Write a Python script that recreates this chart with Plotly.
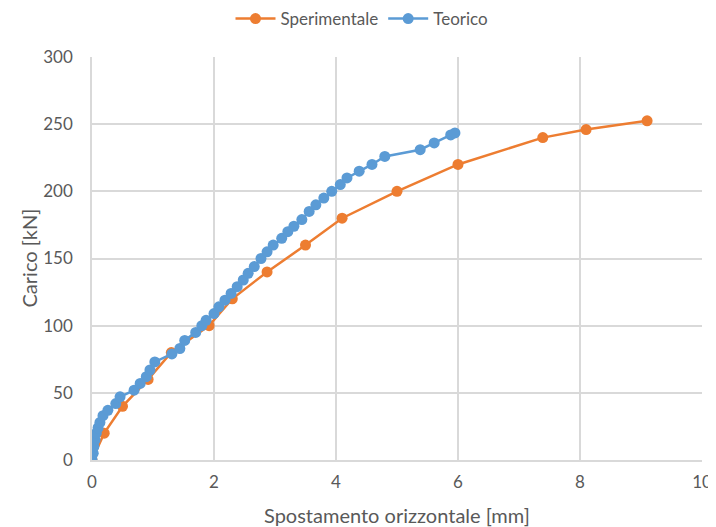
import plotly.graph_objects as go

# Sperimentale
sper_x = [0, 0.2, 0.5, 0.92, 1.3, 1.92, 2.3, 2.87, 3.5, 4.1, 5.0, 6.0, 7.39, 8.1, 9.1]
sper_y = [0, 20, 40, 60, 80, 100, 120, 140, 160, 180, 200, 220, 240, 246, 252.5]

# Teorico
teo_x = [0, 0.02, 0.03, 0.05, 0.07, 0.1, 0.13, 0.18, 0.26, 0.39, 0.46, 0.69, 0.79, 0.89,
         0.95, 1.03, 1.31, 1.44, 1.52, 1.70, 1.80, 1.87, 2.0, 2.08, 2.18, 2.28, 2.38,
         2.48, 2.56, 2.66, 2.77, 2.87, 2.97, 3.11, 3.21, 3.31, 3.44, 3.56, 3.67, 3.80,
         3.93, 4.07, 4.18, 4.38, 4.59, 4.80, 5.38, 5.61, 5.88, 5.95]
teo_y = [0, 5, 10, 15, 20, 24, 28, 33, 37, 42, 47, 52, 57, 62,
         67, 73, 79, 83, 89, 95, 100, 104, 109, 114, 119, 124, 129,
         134, 139, 144, 150, 155, 160, 165, 170, 174, 179, 185, 190, 195,
         200, 205, 210, 215, 220, 226, 231, 236, 242, 243.5]

x_ticks = [0, 2, 4, 6, 8, 10]
y_ticks = [0, 50, 100, 150, 200, 250, 300]

x_title = "Spostamento orizzontale [mm]"
y_title = "Carico [kN]"

grey = "#595959"
grid = "#d9d9d9"
font_family = "Lato, 'Open Sans', sans-serif"

# page body has an 8px margin: figure is offset by (8, 8) in the window
W, H = 708, 519

fig = go.Figure()
fig.add_trace(go.Scatter(x=sper_x, y=sper_y, mode="lines+markers", name="Sperimentale",
                         line=dict(color="#ED7D31", width=2.5),
                         marker=dict(color="#ED7D31", size=11)))
fig.add_trace(go.Scatter(x=teo_x, y=teo_y, mode="lines+markers", name="Teorico",
                         line=dict(color="#5B9BD5", width=2.5),
                         marker=dict(color="#5B9BD5", size=11)))

fig.update_layout(
    width=W, height=H,
    margin=dict(l=84, r=14, t=49, b=67, autoexpand=False),
    paper_bgcolor="white", plot_bgcolor="white",
    font=dict(family=font_family, color=grey, size=17),
    showlegend=True,
    legend=dict(orientation="h", xref="container", x=0.5, xanchor="center",
                y=1 - 11 / H, yanchor="middle", yref="container",
                font=dict(size=17, color=grey), itemwidth=40),
    xaxis=dict(range=[0, 10], tickvals=x_ticks, showgrid=True, gridcolor=grid, gridwidth=1.5,
               zeroline=False, showline=True, linecolor=grid, linewidth=1.5, automargin=False,
               tickfont=dict(size=17, color=grey), ticks="", ticklabelstandoff=6),
    yaxis=dict(range=[0, 300], tickvals=y_ticks, showgrid=True, gridcolor=grid, gridwidth=1.5,
               zeroline=False, showline=True, linecolor=grid, linewidth=1.5, automargin=False,
               tickfont=dict(size=17, color=grey), ticks="", ticklabelstandoff=14),
    annotations=[
        dict(text=x_title, xref="paper", yref="paper", x=0.5, y=-(515 - 460) / 403,
             xanchor="center", yanchor="middle", showarrow=False,
             font=dict(size=20, color=grey)),
        dict(text=y_title, xref="paper", yref="paper", x=-(92 - 28) / 610, y=0.5,
             xanchor="center", yanchor="middle", showarrow=False, textangle=-90,
             font=dict(size=20, color=grey)),
    ],
)

fig.write_html("out.html")
